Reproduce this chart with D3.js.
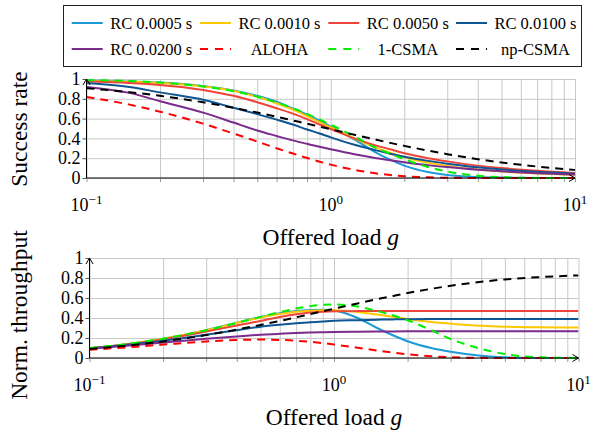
<!DOCTYPE html>
<html><head><meta charset="utf-8">
<script src="https://cdn.jsdelivr.net/npm/d3@7"></script>
<style>
body{margin:0;background:#fff}
svg{display:block}
text{font-family:"Liberation Serif","Times New Roman",serif;fill:#000}
</style>
</head><body>
<svg id="chart" width="592" height="436"></svg>
<script>
// ---------------- data ----------------
const loads = [0.1, 0.15, 0.2, 0.3, 0.4, 0.5, 0.6, 0.7, 0.8, 0.9, 1, 1.25, 1.5, 1.75, 2, 2.5, 3, 4, 5, 7, 10];

const seriesNames = ["RC 0.0005 s", "RC 0.0010 s", "RC 0.0050 s", "RC 0.0100 s", "RC 0.0200 s", "ALOHA", "1-CSMA", "np-CSMA"];

// success rate (top panel)
const successRC0005 = [0.985, 0.975, 0.965, 0.93, 0.885, 0.83, 0.77, 0.70, 0.64, 0.58, 0.52, 0.39, 0.27, 0.185, 0.125, 0.06, 0.03, 0.01, 0.004, 0.001, 0.0];
const successRC0010 = [0.98, 0.972, 0.96, 0.925, 0.88, 0.82, 0.755, 0.69, 0.625, 0.565, 0.51, 0.40, 0.315, 0.255, 0.21, 0.155, 0.122, 0.085, 0.066, 0.046, 0.033];
const successRC0050 = [0.975, 0.96, 0.94, 0.89, 0.83, 0.765, 0.705, 0.65, 0.595, 0.54, 0.495, 0.40, 0.335, 0.29, 0.25, 0.20, 0.168, 0.125, 0.10, 0.072, 0.05];
const successRC0100 = [0.96, 0.92, 0.865, 0.79, 0.71, 0.645, 0.59, 0.54, 0.49, 0.45, 0.41, 0.335, 0.285, 0.245, 0.215, 0.173, 0.145, 0.108, 0.087, 0.062, 0.044];
const successRC0200 = [0.92, 0.86, 0.775, 0.66, 0.56, 0.48, 0.425, 0.38, 0.345, 0.315, 0.29, 0.24, 0.205, 0.18, 0.16, 0.13, 0.11, 0.083, 0.067, 0.048, 0.035];
const successALOHA  = [0.819, 0.741, 0.670, 0.549, 0.449, 0.368, 0.301, 0.247, 0.202, 0.165, 0.135, 0.082, 0.050, 0.030, 0.018, 0.007, 0.0025, 0.0003, 0, 0, 0];
const successCSMA1  = [0.99, 0.979, 0.964, 0.925, 0.877, 0.822, 0.764, 0.705, 0.647, 0.591, 0.538, 0.42, 0.315, 0.245, 0.19, 0.111, 0.065, 0.023, 0.008, 0.001, 0.0];
const successNPCSMA = [0.907, 0.867, 0.83, 0.765, 0.709, 0.661, 0.619, 0.581, 0.549, 0.519, 0.4925, 0.4365, 0.392, 0.355, 0.3245, 0.277, 0.241, 0.19, 0.157, 0.1155, 0.0815];

// normalized throughput (bottom panel)
const throughputRC0005 = [0.098, 0.146, 0.192, 0.278, 0.352, 0.41, 0.447, 0.47, 0.48, 0.483, 0.475, 0.40, 0.30, 0.225, 0.168, 0.10, 0.062, 0.022, 0.007, 0.001, 0.0];
const throughputRC0010 = [0.098, 0.146, 0.192, 0.277, 0.35, 0.405, 0.44, 0.462, 0.473, 0.477, 0.477, 0.46, 0.435, 0.41, 0.39, 0.36, 0.343, 0.322, 0.313, 0.307, 0.305];
const throughputRC0050 = [0.097, 0.143, 0.186, 0.264, 0.325, 0.37, 0.41, 0.437, 0.455, 0.463, 0.467, 0.469, 0.47, 0.47, 0.47, 0.47, 0.47, 0.47, 0.47, 0.47, 0.47];
const throughputRC0100 = [0.096, 0.138, 0.172, 0.232, 0.278, 0.313, 0.333, 0.347, 0.357, 0.365, 0.372, 0.378, 0.383, 0.386, 0.388, 0.39, 0.39, 0.39, 0.39, 0.39, 0.39];
const throughputRC0200 = [0.092, 0.128, 0.154, 0.192, 0.216, 0.232, 0.242, 0.25, 0.255, 0.258, 0.26, 0.263, 0.265, 0.266, 0.267, 0.268, 0.268, 0.268, 0.268, 0.268, 0.268];
const throughputALOHA  = [0.082, 0.111, 0.134, 0.165, 0.18, 0.184, 0.181, 0.173, 0.162, 0.149, 0.135, 0.103, 0.075, 0.053, 0.037, 0.017, 0.0074, 0.0013, 0.0002, 0, 0];
const throughputCSMA1  = [0.099, 0.147, 0.193, 0.278, 0.351, 0.411, 0.459, 0.494, 0.518, 0.532, 0.535, 0.515, 0.47, 0.425, 0.378, 0.278, 0.19, 0.091, 0.04, 0.007, 0.0005];
const throughputNPCSMA = [0.0907, 0.130, 0.166, 0.2295, 0.284, 0.3306, 0.371, 0.407, 0.439, 0.467, 0.4925, 0.546, 0.588, 0.621, 0.649, 0.692, 0.722, 0.762, 0.786, 0.809, 0.826];

const yTickValues = [0, 0.2, 0.4, 0.6, 0.8, 1];
const yTickLabels = ["0", "0.2", "0.4", "0.6", "0.8", "1"];
const xTickValues = [0.1, 1, 10];
const xTickExponents = ["\u22121", "0", "1"];

// ---------------- styles ----------------
const seriesColors = ["#1c9ad6", "#fdc800", "#ef4438", "#0d5693", "#7a2b8c", "#ff0000", "#00ee00", "#000000"];
const seriesDashed = [false, false, false, false, false, true, true, true];

const successData = [successRC0005, successRC0010, successRC0050, successRC0100, successRC0200, successALOHA, successCSMA1, successNPCSMA];
const throughputData = [throughputRC0005, throughputRC0010, throughputRC0050, throughputRC0100, throughputRC0200, throughputALOHA, throughputCSMA1, throughputNPCSMA];

const svg = d3.select("#chart");
const SERIF = "'Liberation Serif', 'Times New Roman', serif";
const FONT_TICK = 18, FONT_LABEL = 23.5, FONT_LEGEND = 16.5;

function panel(cfg, dataSets, yLabel, id) {
  const x = d3.scaleLog().domain([0.1, 10]).range([cfg.x0, cfg.x1]);
  const y = d3.scaleLinear().domain([0, 1]).range([cfg.yb, cfg.yt]);
  const g = svg.append("g");
  const h = cfg.yb - cfg.yt;

  // vertical grid (log minor ticks)
  const gx = g.append("g").attr("transform", `translate(0,${cfg.yb})`)
    .call(d3.axisBottom(x).tickValues(x.ticks()).tickSizeInner(-h).tickSizeOuter(0).tickFormat(""));
  gx.select(".domain").remove();
  gx.selectAll("line").attr("stroke", "#c8c8c8").attr("stroke-width", 1);
  const gx2 = g.append("g").attr("transform", `translate(0,${cfg.yb})`)
    .call(d3.axisBottom(x).tickValues(x.ticks()).tickSizeInner(4).tickSizeOuter(0).tickFormat(""));
  gx2.select(".domain").remove();
  gx2.selectAll("line").attr("stroke", "#9a9a9a");

  // horizontal grid
  const gy = g.append("g").attr("transform", `translate(${cfg.x0},0)`)
    .call(d3.axisLeft(y).tickValues(yTickValues).tickSizeInner(-(cfg.x1 - cfg.x0)).tickSizeOuter(0).tickFormat(""));
  gy.select(".domain").remove();
  gy.selectAll("line").attr("stroke", "#c8c8c8");

  // y axis with labels
  const ya = g.append("g").attr("transform", `translate(${cfg.x0},0)`)
    .call(d3.axisLeft(y).tickValues(yTickValues).tickSizeInner(4).tickSizeOuter(0).tickPadding(2)
      .tickFormat((d, i) => yTickLabels[i]));
  ya.attr("font-family", SERIF);
  ya.select(".domain").remove();
  ya.selectAll("line").attr("stroke", "#555");
  ya.selectAll("text").attr("font-size", FONT_TICK).style("font-family", SERIF).attr("fill", "#000");

  // curves
  const clipId = "clip" + id;
  svg.append("defs").append("clipPath").attr("id", clipId)
    .append("rect").attr("x", cfg.x0).attr("y", cfg.yt - 3).attr("width", cfg.x1 - cfg.x0).attr("height", h + 6);
  const line = d3.line().x(d => x(d[0])).y(d => y(d[1])).curve(d3.curveMonotoneX);
  const cg = g.append("g").attr("clip-path", `url(#${clipId})`);
  dataSets.forEach((vals, i) => {
    cg.append("path")
      .attr("d", line(loads.map((l, k) => [l, vals[k]])))
      .attr("fill", "none")
      .attr("stroke", seriesColors[i])
      .attr("stroke-width", 2)
      .attr("stroke-dasharray", seriesDashed[i] ? "8,6" : null);
  });

  // axis lines with arrows
  g.append("line").attr("x1", cfg.x0).attr("x2", cfg.x1).attr("y1", cfg.yb).attr("y2", cfg.yb)
    .attr("stroke", "#000").attr("stroke-width", 1);
  g.append("line").attr("x1", cfg.x0).attr("x2", cfg.x0).attr("y1", cfg.yb).attr("y2", cfg.yt)
    .attr("stroke", "#000").attr("stroke-width", 1);
  g.append("path").attr("d", `M${cfg.x0 - 3.5},${cfg.yt + 6} L${cfg.x0},${cfg.yt} L${cfg.x0 + 3.5},${cfg.yt + 6}`)
    .attr("fill", "none").attr("stroke", "#000").attr("stroke-width", 1);
  g.append("path").attr("d", `M${cfg.x1 - 6},${cfg.yb - 3.5} L${cfg.x1},${cfg.yb} L${cfg.x1 - 6},${cfg.yb + 3.5}`)
    .attr("fill", "none").attr("stroke", "#000").attr("stroke-width", 1);

  // x tick labels 10^k
  const xl = g.append("g").selectAll("text").data(xTickValues).join("text")
    .attr("x", d => x(d)).attr("y", cfg.yb + 33)
    .attr("text-anchor", "middle").attr("font-size", FONT_TICK).style("font-family", SERIF);
  xl.append("tspan").text("10");
  xl.append("tspan").attr("dy", -7).attr("font-size", 13).text((d, i) => xTickExponents[i]);

  // axis titles
  const xt = g.append("text").attr("x", (cfg.x0 + cfg.x1) / 2).attr("y", cfg.yb + 67)
    .attr("text-anchor", "middle").attr("font-size", FONT_LABEL).style("font-family", SERIF);
  xt.append("tspan").text("Offered load ");
  xt.append("tspan").attr("font-style", "italic").text("g");

  g.append("text").attr("transform", `translate(${cfg.ylx},${cfg.yly}) rotate(-90)`)
    .attr("text-anchor", "middle").attr("font-size", FONT_LABEL).style("font-family", SERIF).text(yLabel);
}

panel({x0: 86.5, x1: 575, yt: 79, yb: 178, ylx: 27, yly: 129}, successData, "Success rate", "a");
panel({x0: 89.5, x1: 578.5, yt: 258, yb: 358, ylx: 27, yly: 315}, throughputData, "Norm. throughput", "b");

// ---------------- legend ----------------
const lg = svg.append("g");
lg.append("rect").attr("x", 63.5).attr("y", 5.5).attr("width", 518).attr("height", 61)
  .attr("fill", "#fff").attr("stroke", "#222").attr("stroke-width", 1);
const colX = [71.7, 200, 328.3, 456];
const rowY = [23, 49];
seriesNames.forEach((name, i) => {
  const cx = colX[i % 4], cy = rowY[Math.floor(i / 4)];
  lg.append("line").attr("x1", cx).attr("x2", cx + 31).attr("y1", cy).attr("y2", cy)
    .attr("stroke", seriesColors[i]).attr("stroke-width", 2)
    .attr("stroke-dasharray", seriesDashed[i] ? "8,7" : null);
  lg.append("text").attr("x", cx + 79.5).attr("y", cy + 5.5).attr("text-anchor", "middle")
    .attr("font-size", FONT_LEGEND).style("font-family", SERIF).text(name);
});
</script>
</body></html>
